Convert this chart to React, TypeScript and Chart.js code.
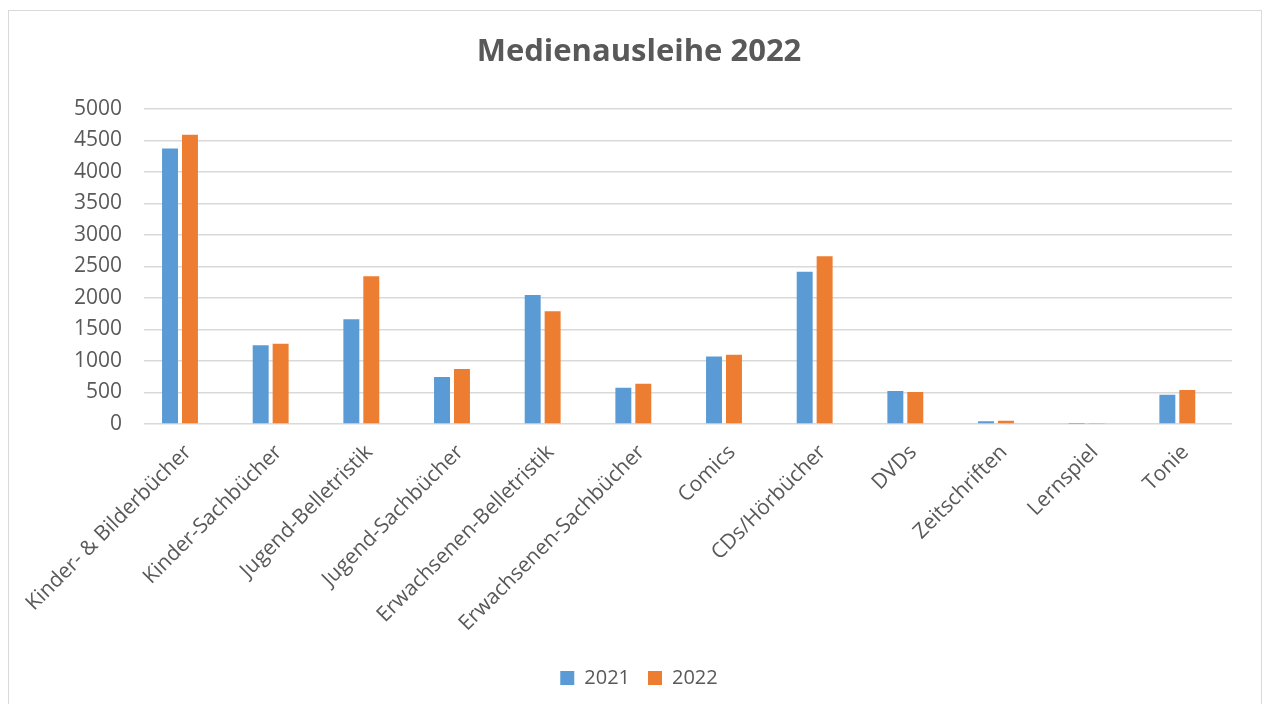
import React, { useEffect, useRef } from "react";
import { Chart, registerables } from "chart.js";

Chart.register(...registerables);

const categories = [
  "Kinder- & Bilderbücher",
  "Kinder-Sachbücher",
  "Jugend-Belletristik",
  "Jugend-Sachbücher",
  "Erwachsenen-Belletristik",
  "Erwachsenen-Sachbücher",
  "Comics",
  "CDs/Hörbücher",
  "DVDs",
  "Zeitschriften",
  "Lernspiel",
  "Tonie",
];
const values2021 = [4370, 1250, 1660, 745, 2045, 575, 1070, 2415, 522, 43, 2, 463];
const values2022 = [4590, 1273, 2345, 873, 1790, 640, 1100, 2662, 506, 53, 8, 538];
const seriesNames = ["2021", "2022"];
const yTicks = { min: 0, max: 5000, step: 500 };
const titleText = "Medienausleihe 2022";

const FONT = "'Open Sans', 'DejaVu Sans', sans-serif";
const TEXT = "#595959";
const GRID = "#d9d9d9";

export default function App() {
  const ref = useRef<HTMLCanvasElement | null>(null);
  useEffect(() => {
    if (!ref.current) return;
    const chart = new Chart(ref.current, {
      type: "bar",
      data: {
        labels: categories,
        datasets: [
          { label: seriesNames[0], data: values2021, backgroundColor: "#5B9BD5", categoryPercentage: 0.44, barPercentage: 0.8 },
          { label: seriesNames[1], data: values2022, backgroundColor: "#ED7D31", categoryPercentage: 0.44, barPercentage: 0.8 },
        ],
      },
      options: {
        responsive: false,
        animation: false,
        layout: { padding: { top: 0, left: 46, right: 32, bottom: 6 } },
        plugins: {
          title: {
            display: true,
            text: titleText,
            color: TEXT,
            font: { family: FONT, size: 31, weight: "bold" },
            padding: { top: 34, bottom: 37.6 },
          },
          legend: {
            position: "bottom",
            labels: {
              color: TEXT,
              font: { family: FONT, size: 20 },
              boxWidth: 14,
              boxHeight: 14,
              padding: 18,
            },
          },
          tooltip: { enabled: false },
        },
        scales: {
          x: {
            grid: { display: false },
            border: { display: false },
            ticks: {
              color: TEXT,
              font: { family: FONT, size: 21 },
              maxRotation: 45,
              minRotation: 45,
              padding: 8,
              labelOffset: 8,
              autoSkip: false,
            },
            afterBuildTicks: (scale: any) => {
              scale._startValue = scale._startValue + 0.103;
            },
            afterFit: (scale: any) => {
              scale.height = 226;
            },
          },
          y: {
            min: yTicks.min,
            max: yTicks.max,
            grid: { color: GRID, lineWidth: 1.5, drawTicks: false },
            border: { display: false },
            ticks: {
              stepSize: yTicks.step,
              color: TEXT,
              font: { family: FONT, size: 21 },
              padding: 22,
              callback: (v: any) => String(v),
            },
            afterFit: (scale: any) => {
              scale.width = 98;
            },
          },
        },
      },
    });
    return () => chart.destroy();
  }, []);

  return (
    <div style={{ position: "fixed", left: 0, top: 0, width: 1264, height: 704, background: "#fff", overflow: "hidden" }}>
      <div
        style={{
          position: "absolute",
          left: 8,
          top: 10,
          width: 1254,
          height: 720,
          border: "1px solid " + GRID,
          boxSizing: "border-box",
        }}
      />
      <canvas ref={ref} width={1264} height={704} style={{ position: "absolute", left: 0, top: 0, width: 1264, height: 704 }} />
    </div>
  );
}
